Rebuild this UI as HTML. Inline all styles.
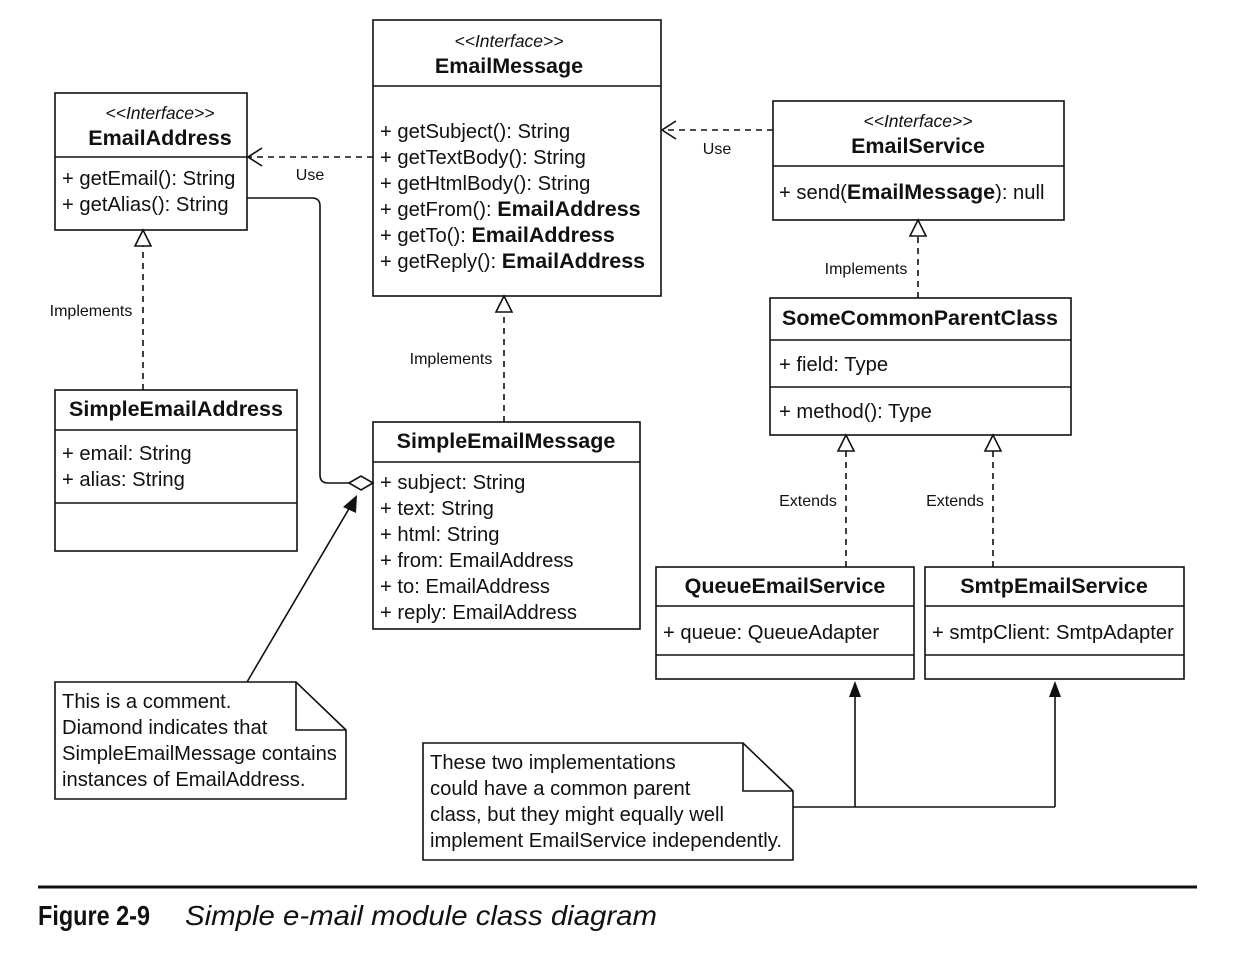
<!DOCTYPE html>
<html><head><meta charset="utf-8"><style>
html,body{margin:0;padding:0;background:#fff;}
svg{display:block;}
text{font-family:"Liberation Sans",sans-serif;font-size:20.2px;fill:#111;}
.b{font-weight:bold;}
.h{font-weight:bold;font-size:21.5px;}
.i{font-style:italic;}
.s{font-size:16px;}
</style></head><body>
<svg width="1238" height="956" viewBox="0 0 1238 956" xmlns="http://www.w3.org/2000/svg">
<g fill="none" stroke="#111" stroke-width="1.6">
<rect x="55" y="93" width="192" height="137"/><line x1="55" y1="157" x2="247" y2="157"/>
<rect x="373" y="20" width="288" height="276"/><line x1="373" y1="86" x2="661" y2="86"/>
<rect x="773" y="101" width="291" height="119"/><line x1="773" y1="166" x2="1064" y2="166"/>
<rect x="770" y="298" width="301" height="137"/><line x1="770" y1="340" x2="1071" y2="340"/><line x1="770" y1="387" x2="1071" y2="387"/>
<rect x="55" y="390" width="242" height="161"/><line x1="55" y1="430" x2="297" y2="430"/><line x1="55" y1="503" x2="297" y2="503"/>
<rect x="373" y="422" width="267" height="207"/><line x1="373" y1="462" x2="640" y2="462"/>
<rect x="656" y="567" width="258" height="112"/><line x1="656" y1="606" x2="914" y2="606"/><line x1="656" y1="655" x2="914" y2="655"/>
<rect x="925" y="567" width="259" height="112"/><line x1="925" y1="606" x2="1184" y2="606"/><line x1="925" y1="655" x2="1184" y2="655"/>
<path d="M55 682 H296 L346 730 V799 H55 Z"/><path d="M296 682 V730 H346"/>
<path d="M423 743 H743 L793 791 V860 H423 Z"/><path d="M743 743 V791 H793"/>
<g stroke-dasharray="6,5">
<line x1="373" y1="157" x2="249" y2="157"/>
<line x1="773" y1="130" x2="663" y2="130"/>
<line x1="143" y1="390" x2="143" y2="246"/>
<line x1="504" y1="422" x2="504" y2="312"/>
<line x1="918" y1="298" x2="918" y2="236"/>
<line x1="846" y1="567" x2="846" y2="451"/>
<line x1="993" y1="567" x2="993" y2="451"/>
</g>
<path d="M262 148 L248 157 L262 166"/>
<path d="M676 121 L662 130 L676 139"/>
<path d="M143 230 L135 246 H151 Z" fill="#fff"/>
<path d="M504 296 L496 312 H512 Z" fill="#fff"/>
<path d="M918 220 L910 236 H926 Z" fill="#fff"/>
<path d="M846 435 L838 451 H854 Z" fill="#fff"/>
<path d="M993 435 L985 451 H1001 Z" fill="#fff"/>
<path d="M247 198 H312 Q320 198 320 206 V475 Q320 483 328 483 H349"/>
<path d="M349 483 L361 476 L373 483 L361 490 Z" fill="#fff"/>
<line x1="247" y1="682" x2="350" y2="507"/>
<path d="M793 807 H1055 M855 807 V695 M1055 807 V695"/>
</g>
<path d="M357 495 L343 507 L356 513 Z" fill="#111"/>
<path d="M855 681 L849 697 H861 Z" fill="#111"/>
<path d="M1055 681 L1049 697 H1061 Z" fill="#111"/>
<line x1="38" y1="887" x2="1197" y2="887" stroke="#111" stroke-width="3"/>

<text x="160" y="119" text-anchor="middle" class="i" style="font-size:17.5px">&lt;&lt;Interface&gt;&gt;</text>
<text x="160" y="145" text-anchor="middle" class="h">EmailAddress</text>
<text x="62" y="185">+ getEmail(): String</text>
<text x="62" y="211">+ getAlias(): String</text>

<text x="509" y="47" text-anchor="middle" class="i" style="font-size:17.5px">&lt;&lt;Interface&gt;&gt;</text>
<text x="509" y="73" text-anchor="middle" class="h">EmailMessage</text>
<text x="380" y="138">+ getSubject(): String</text>
<text x="380" y="164">+ getTextBody(): String</text>
<text x="380" y="190">+ getHtmlBody(): String</text>
<text x="380" y="216">+ getFrom(): <tspan class="h">EmailAddress</tspan></text>
<text x="380" y="242">+ getTo(): <tspan class="h">EmailAddress</tspan></text>
<text x="380" y="268">+ getReply(): <tspan class="h">EmailAddress</tspan></text>

<text x="918" y="127" text-anchor="middle" class="i" style="font-size:17.5px">&lt;&lt;Interface&gt;&gt;</text>
<text x="918" y="153" text-anchor="middle" class="h">EmailService</text>
<text x="779" y="199">+ send(<tspan class="h">EmailMessage</tspan>): null</text>

<text x="920" y="325" text-anchor="middle" class="h">SomeCommonParentClass</text>
<text x="779" y="371">+ field: Type</text>
<text x="779" y="418">+ method(): Type</text>

<text x="176" y="416" text-anchor="middle" class="h">SimpleEmailAddress</text>
<text x="62" y="460">+ email: String</text>
<text x="62" y="486">+ alias: String</text>

<text x="506" y="448" text-anchor="middle" class="h">SimpleEmailMessage</text>
<text x="380" y="489">+ subject: String</text>
<text x="380" y="515">+ text: String</text>
<text x="380" y="541">+ html: String</text>
<text x="380" y="567">+ from: EmailAddress</text>
<text x="380" y="593">+ to: EmailAddress</text>
<text x="380" y="619">+ reply: EmailAddress</text>

<text x="785" y="593" text-anchor="middle" class="h">QueueEmailService</text>
<text x="663" y="639">+ queue: QueueAdapter</text>
<text x="1054" y="593" text-anchor="middle" class="h">SmtpEmailService</text>
<text x="932" y="639">+ smtpClient: SmtpAdapter</text>

<text x="62" y="708">This is a comment.</text>
<text x="62" y="734">Diamond indicates that</text>
<text x="62" y="760">SimpleEmailMessage contains</text>
<text x="62" y="786">instances of EmailAddress.</text>

<text x="430" y="769">These two implementations</text>
<text x="430" y="795">could have a common parent</text>
<text x="430" y="821">class, but they might equally well</text>
<text x="430" y="847">implement EmailService independently.</text>

<text x="310" y="180" text-anchor="middle" class="s">Use</text>
<text x="717" y="154" text-anchor="middle" class="s">Use</text>
<text x="91" y="316" text-anchor="middle" class="s">Implements</text>
<text x="451" y="364" text-anchor="middle" class="s">Implements</text>
<text x="866" y="274" text-anchor="middle" class="s">Implements</text>
<text x="808" y="506" text-anchor="middle" class="s">Extends</text>
<text x="955" y="506" text-anchor="middle" class="s">Extends</text>

<text x="38" y="925" style="font-size:28px;font-weight:bold" textLength="112" lengthAdjust="spacingAndGlyphs">Figure 2-9</text>
<text x="185" y="925" class="i" style="font-size:28px" textLength="472" lengthAdjust="spacingAndGlyphs">Simple e-mail module class diagram</text>
</svg>
</body></html>
